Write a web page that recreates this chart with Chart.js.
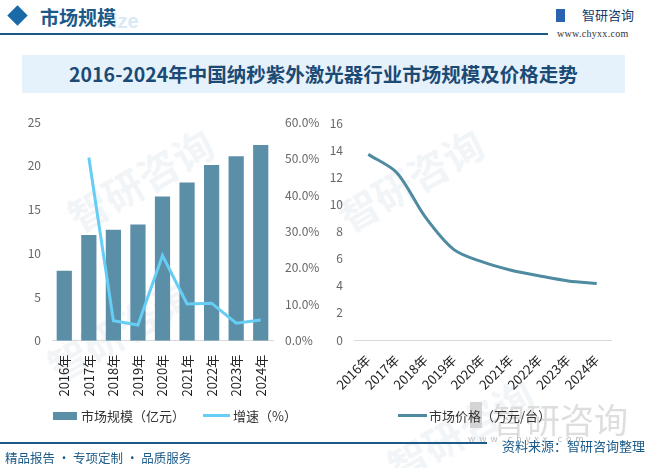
<!DOCTYPE html>
<html>
<head>
<meta charset="utf-8">
<script src="https://cdn.jsdelivr.net/npm/chart.js@4.4.0/dist/chart.umd.min.js"></script>
<style>
  body { margin: 0; background: #fff; font-family: "Noto Sans CJK SC", sans-serif; }
  #page { position: relative; width: 650px; height: 468px; overflow: hidden; background: #fff; }
  .abs { position: absolute; white-space: nowrap; }
  .wm { position: absolute; color: #1a5a8a; opacity: 0.05; font-weight: bold; transform: rotate(-30deg); white-space: nowrap; }
</style>
</head>
<body>
<div id="page">
  <!-- faint watermarks -->
  <div class="wm" style="left:330px;top:150px;font-size:40px;">智研咨询</div>
  <div class="wm" style="left:40px;top:300px;font-size:40px;">智研咨询</div>
  <div class="wm" style="left:60px;top:150px;font-size:40px;">智研咨询</div>
  <div class="wm" style="left:380px;top:400px;font-size:40px;">智研咨询</div>

  <!-- header -->
  <div class="abs" style="left:9px;top:7px;width:17px;height:17px;background:#1a6aa8;transform:rotate(45deg) scale(0.85);"></div>
  <div class="abs" style="left:112px;top:10px;font-size:20px;font-weight:bold;color:#d8eaf6;font-family:'Liberation Sans';">ize</div>
  <div class="abs" style="left:40px;top:3px;font-size:19px;font-weight:bold;color:#1b5a88;">市场规模</div>
  <div class="abs" style="left:0;top:33px;width:548px;height:2px;background:#1b5a88;"></div>
  <div class="abs" style="left:556px;top:9px;width:9px;height:13px;background:#2a64b0;"></div>
  <div class="abs" style="left:582px;top:5px;font-size:13px;color:#1a3a6a;">智研咨询</div>
  <div class="abs" style="left:557px;top:28px;font-size:10px;color:#333;font-family:'Liberation Serif';letter-spacing:0.3px;">www.chyxx.com</div>

  <!-- title band -->
  <div class="abs" style="left:22px;top:55px;width:603px;height:38px;background:#e6f2fb;"></div>
  <div class="abs" style="left:22px;top:55px;width:603px;height:38px;line-height:38px;text-align:center;font-size:19.5px;font-weight:bold;color:#1b4a75;">2016-2024年中国纳秒紫外激光器行业市场规模及价格走势</div>

  <!-- charts -->
  <div class="abs" style="left:0;top:103px;width:330px;height:307px;"><canvas id="c1" width="330" height="307"></canvas></div>
  <div class="abs" style="left:320px;top:105px;width:330px;height:305px;"><canvas id="c2" width="330" height="305"></canvas></div>

  <!-- legends -->
  <div class="abs" style="left:53px;top:412px;width:24px;height:8px;background:#5b8fa8;"></div>
  <div class="abs" style="left:81px;top:406px;font-size:13px;color:#333;">市场规模（亿元）</div>
  <div class="abs" style="left:203px;top:414px;width:27px;height:3px;background:#66cdf5;"></div>
  <div class="abs" style="left:233px;top:406px;font-size:13px;color:#333;">增速（%）</div>

  <!-- faded logo -->
  <div class="abs" style="left:470px;top:402px;width:12px;height:26px;background:#d4d4d4;"></div>
  <div class="abs" style="left:492px;top:394px;font-size:34px;color:#c8c8c8;opacity:0.6;">智研咨询</div>
  <div class="abs" style="left:468px;top:432px;font-size:9px;color:#bbb;letter-spacing:4px;">www.chyxx.com</div>

  <div class="abs" style="left:398px;top:414px;width:29px;height:3px;background:#4e8aa0;"></div>
  <div class="abs" style="left:429px;top:406px;font-size:13px;color:#333;">市场价格（万元/台）</div>

  <!-- footer -->
  <div class="abs" style="left:0;top:442px;width:487px;height:2px;background:#1b5a88;"></div>
  <div class="abs" style="left:502px;top:436px;font-size:13px;color:#1b5a88;">资料来源：智研咨询整理</div>
  <div class="abs" style="left:5px;top:448px;font-size:12.5px;color:#1b5a88;">精品报告 · 专项定制 · 品质服务</div>
</div>

<script>
const years = ['2016年', '2017年', '2018年', '2019年', '2020年', '2021年', '2022年', '2023年', '2024年'];
const marketSize = [8.0, 12.1, 12.7, 13.3, 16.5, 18.1, 20.1, 21.1, 22.4];
const growthRate = [null, 50.3, 5.5, 4.3, 23.4, 10.1, 10.3, 4.8, 5.7];
const price = [13.7, 12.35, 9.07, 6.67, 5.76, 5.15, 4.73, 4.36, 4.17];

const tickFont = { family: 'Noto Sans CJK SC', size: 12 };
const catFont = { family: 'Noto Sans CJK SC', size: 13 };
const tickColor = '#666';
const labelColor = '#222';

new Chart(document.getElementById('c1'), {
  type: 'bar',
  data: {
    labels: years,
    datasets: [
      {
        type: 'line', label: '增速（%）', data: growthRate, yAxisID: 'y1',
        borderColor: '#66cdf5', borderWidth: 3, pointRadius: 0, tension: 0
      },
      {
        label: '市场规模（亿元）', data: marketSize, yAxisID: 'y',
        backgroundColor: '#5b8fa8', categoryPercentage: 1, barPercentage: 0.62
      }
    ]
  },
  options: {
    responsive: false, animation: false,
    layout: { padding: { top: 7, left: 0, right: 0, bottom: 0 } },
    plugins: { legend: { display: false }, tooltip: { enabled: false } },
    scales: {
      x: {
        grid: { display: false },
        border: { display: true, color: '#d9d9d9' },
        ticks: { font: catFont, color: labelColor, minRotation: 90, maxRotation: 90, autoSkip: false, padding: 6 },
        afterFit: s => { s.height = 69.3; }
      },
      y: {
        position: 'left', min: 0, max: 25,
        ticks: { stepSize: 5, font: tickFont, color: tickColor, padding: 11 },
        grid: { display: false, drawTicks: false },
        border: { display: false },
        afterFit: s => { s.width = 52; }
      },
      y1: {
        position: 'right', min: 0, max: 60,
        ticks: { stepSize: 10, font: tickFont, color: tickColor, padding: 12, callback: v => v.toFixed(1) + '%' },
        grid: { display: false, drawTicks: false },
        border: { display: false },
        afterFit: s => { s.width = 57; }
      }
    }
  }
});

new Chart(document.getElementById('c2'), {
  type: 'line',
  data: {
    labels: years,
    datasets: [{
      label: '市场价格（万元/台）', data: price,
      borderColor: '#4e8aa0', borderWidth: 3, pointRadius: 0, tension: 0.3
    }]
  },
  options: {
    responsive: false, animation: false,
    layout: { padding: { top: 6.3, left: 0, right: 39, bottom: 0 } },
    plugins: { legend: { display: false }, tooltip: { enabled: false } },
    scales: {
      x: {
        offset: true,
        grid: { display: false, offset: true },
        border: { display: true, color: '#d9d9d9' },
        ticks: { font: catFont, color: labelColor, minRotation: 45, maxRotation: 45, autoSkip: false, padding: 4 },
        afterFit: s => { s.height = 70; }
      },
      y: {
        min: 0, max: 16,
        ticks: { stepSize: 2, font: tickFont, color: tickColor, padding: 11 },
        grid: { display: false, drawTicks: false },
        border: { display: false },
        afterFit: s => { s.width = 34; }
      }
    }
  }
});
</script>
</body>
</html>
